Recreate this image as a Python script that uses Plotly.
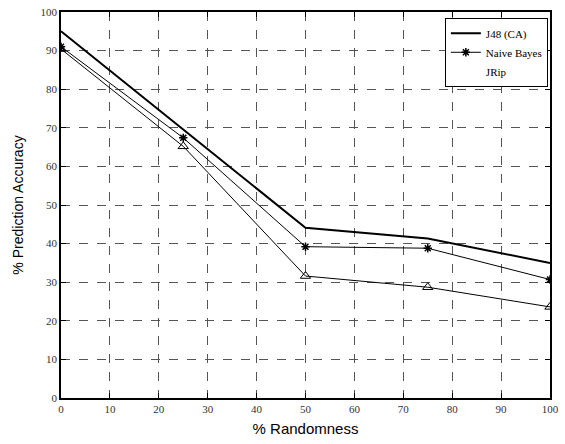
import plotly.graph_objects as go

randomness = [0, 25, 50, 75, 100]
j48 = [95.0, 69.6, 44.1, 41.3, 35.0]
naive_bayes = [91.0, 67.4, 39.2, 38.8, 30.7]
jrip = [90.4, 65.2, 31.6, 28.7, 23.6]

x_ticks = list(range(0, 101, 10))
y_ticks = list(range(0, 101, 10))

fig = go.Figure()
fig.add_trace(go.Scatter(x=randomness, y=j48, mode="lines", name="J48 (CA)",
                         line=dict(color="black", width=2)))
fig.add_trace(go.Scatter(x=randomness, y=naive_bayes, mode="lines+markers", name="Naive Bayes",
                         line=dict(color="black", width=1),
                         marker=dict(symbol="asterisk", size=7, color="black",
                                     line=dict(color="black", width=1.5))))
fig.add_trace(go.Scatter(x=randomness, y=jrip, mode="lines+markers", name="JRip",
                         showlegend=False,
                         line=dict(color="black", width=1),
                         marker=dict(symbol="triangle-up-open", size=9, color="black",
                                     line=dict(color="black", width=1))))
# legend entry for JRip shown without a sample, as in the reference
fig.add_trace(go.Scatter(x=[None], y=[None], mode="lines", name="JRip",
                         line=dict(color="rgba(0,0,0,0)", width=1)))

axis_common = dict(
    showline=True, linecolor="black", linewidth=1.5, mirror="ticks",
    ticks="inside", ticklen=5, tickcolor="black",
    showgrid=True, gridcolor="#555", griddash="dash", gridwidth=1,
    zeroline=False, ticklabeloverflow="allow",
    tickfont=dict(family="Liberation Serif, Times New Roman, serif", size=11, color="#333"),
)

fig.update_xaxes(range=[0, 100], tickvals=x_ticks, ticktext=[str(v) for v in x_ticks],
                 title=dict(text="% Randomness", font=dict(family="Liberation Sans", size=15, color="black"),
                            standoff=10),
                 **axis_common)
fig.update_yaxes(range=[0, 100], tickvals=y_ticks, ticktext=[str(v) for v in y_ticks],
                 title=dict(text="% Prediction Accuracy", font=dict(family="Liberation Sans", size=14, color="black"),
                            standoff=14),
                 **axis_common)

fig.update_layout(
    width=565, height=444,
    margin=dict(l=61, r=6, t=8, b=46),
    paper_bgcolor="white", plot_bgcolor="white",
    showlegend=True,
    legend=dict(x=0.785, y=0.985, xanchor="left", yanchor="top",
                bgcolor="white", bordercolor="black", borderwidth=1,
                font=dict(family="Liberation Serif, Times New Roman, serif", size=11, color="black"),
                itemwidth=30, tracegroupgap=0),
)

fig.write_html("out.html")
